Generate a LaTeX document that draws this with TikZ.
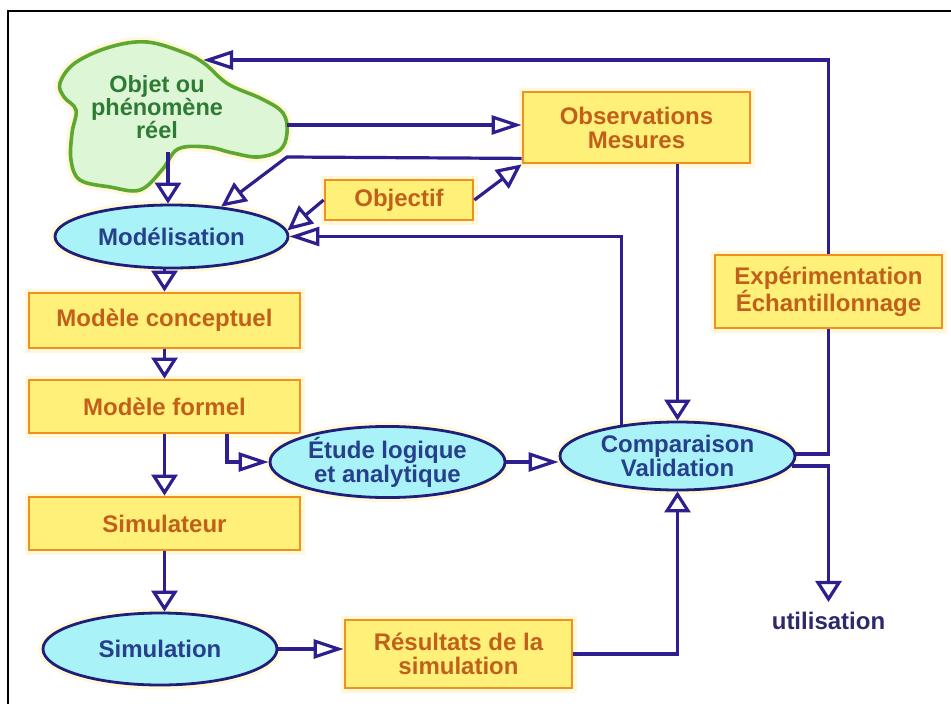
\documentclass[tikz,border=0pt]{standalone}
\usepackage{fontspec}
\setmainfont{Liberation Sans}
\usetikzlibrary{arrows.meta,shapes.geometric,calc}
\definecolor{boxfill}{HTML}{FFF07A}
\definecolor{boxline}{HTML}{F0901E}
\definecolor{boxtext}{HTML}{C0601A}
\definecolor{ellfill}{HTML}{A8F2F8}
\definecolor{ellline}{HTML}{1F1F7A}
\definecolor{elltext}{HTML}{27408B}
\definecolor{cloudfill}{HTML}{DDF6D6}
\definecolor{cloudline}{HTML}{5FA830}
\definecolor{cloudtext}{HTML}{2F7A35}
\definecolor{arrowc}{HTML}{2D1F8F}
\definecolor{glow}{HTML}{FFF8DA}
\definecolor{utiltext}{HTML}{2E2A6A}
\begin{document}
\begin{tikzpicture}[x=1pt,y=-1pt,
  every node/.style={font=\bfseries\fontsize{24}{24}\selectfont, inner sep=0pt, align=center},
  box/.style={draw=boxline, fill=boxfill, line width=2.8pt, text=boxtext, preaction={draw=glow, line width=9pt}},
  ell/.style={ellipse, draw=ellline, fill=ellfill, line width=2.8pt, text=elltext, preaction={draw=glow, line width=9pt}},
  conn/.style={draw=arrowc, line width=3.2pt},
  harr/.style={conn, -{Triangle[length=30pt,width=19pt,fill=white]}},
  varr/.style={conn, -{Triangle[length=21pt,width=26pt,fill=white]}},
  darr/.style={conn, -{Triangle[length=25pt,width=23pt,fill=white]}}]
\useasboundingbox (0,0) rectangle (951,704);
\draw[line width=2pt] (8,704) -- (8,11) -- (951,11);

% cloud
\draw[draw=cloudline, fill=cloudfill, line width=3.6pt, preaction={draw=glow, line width=10pt}]
  plot[smooth cycle, tension=0.6] coordinates {
  (60,83) (75,63) (110,47) (147,42) (185,53) (205,64) (228,84) (262,99)
  (283,113) (287,133) (280,150) (258,157) (233,153) (207,147) (178,149)
  (162,170) (140,190) (110,187) (80,180) (71,160) (72,133) (76,110) (64,97)};
\node[text=cloudtext, font=\bfseries\fontsize{23.5}{20}\selectfont] (cloudtxt) at (157,107) {Objet ou\\phénomène\\réel};
\coordinate (cloudE) at (287,125);
\coordinate (cloudS) at (168,152);
\coordinate (cloudN) at (203,60);

% boxes
\node[box, minimum width=227pt, minimum height=71pt] (obs) at (636.5,127.5) {Observations\\Mesures};
\node[box, minimum width=148pt, minimum height=40pt] (obj) at (399,200) {Objectif};
\node[box, minimum width=227pt, minimum height=73pt] (exp) at (828.5,291.5) {Expérimentation\\Échantillonnage};
\node[box, minimum width=271pt, minimum height=55pt] (mc) at (164.5,320.5) {Modèle conceptuel};
\node[box, minimum width=271pt, minimum height=53pt] (mf) at (164.5,406.5) {Modèle formel};
\node[box, minimum width=271pt, minimum height=53pt] (sim) at (164.5,523.5) {Simulateur};
\node[box, minimum width=227pt, minimum height=68pt] (res) at (458.5,654) {Résultats de la\\simulation};

% ellipses
\node[ell, minimum width=233pt, minimum height=63pt] (mod) at (171.5,236.5) {Modélisation};
\node[ell, minimum width=235pt, minimum height=70pt] (etude) at (387.5,462) {Étude logique\\et analytique};
\node[ell, minimum width=235pt, minimum height=68pt] (comp) at (677.5,456) {Comparaison\\Validation};
\node[ell, minimum width=234pt, minimum height=72pt] (simu) at (160,649) {Simulation};

\node[text=utiltext] (util) at (828.5,621) {utilisation};

% connectors
\coordinate (bend1) at (287,157);
\draw[conn] (comp.1) -| (exp.south);
\draw[harr] (exp.north) |- (cloudN);
\draw[varr, shorten >=10pt] (comp.-5) -| (util.north);
\draw[harr] (cloudE) -- (cloudE -| obs.west);
\draw[darr] ($(obs.south west)+(0,-6)$) -- (bend1) -- (mod.31);
\draw[darr] (obj.west) -- (mod.3);
\draw[darr] (obj.east) -- (obs.south west);
\draw[harr] (comp.151) |- (mod.east);
\draw[varr] (comp.north |- obs.south) -- (comp.north);
\draw[varr] (cloudS) -- (cloudS |- mod.north);
\draw[varr] (mod.south -| mc.north) -- (mc.north);
\draw[varr] (mc.south) -- (mf.north);
\draw[varr] (mf.south) -- (sim.north);
\draw[harr] ($(mf.south)+(62.5,0)$) |- (etude.west);
\draw[harr] (etude.east) -- (etude.east -| comp.west);
\draw[varr] (sim.south) -- (sim.south |- simu.north);
\draw[harr] (simu.east) -- (simu.east -| res.west);
\draw[varr] (res.east) -| (comp.south);
\end{tikzpicture}
\end{document}
